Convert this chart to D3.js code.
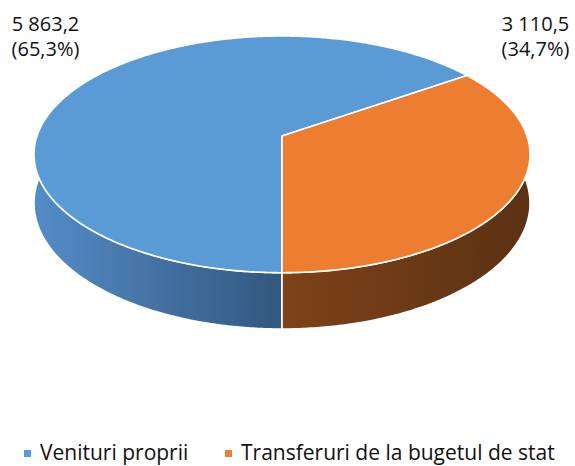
<!DOCTYPE html>
<html>
<head>
<meta charset="utf-8">
<script src="https://cdn.jsdelivr.net/npm/d3@7"></script>
<style>
  html, body { margin: 0; padding: 0; background: #ffffff; }
  svg { display: block; }
  text { font-family: "Open Sans", "Liberation Sans", sans-serif; fill: #111111; }
</style>
</head>
<body>
<svg id="chart" width="575" height="466"></svg>
<script>
// ---- data ----
const categories = ["Venituri proprii", "Transferuri de la bugetul de stat"];
const values = [5863.2, 3110.5];
const topColors = ["#5b9bd5", "#ed7d31"];
const wallColorsLeft = ["#548cc8", "#7e4219"];
const wallColorsRight = ["#33577e", "#5a3213"];

// ---- layout ----
const W = 575, H = 466;
const cx = 282, cy = 136;       // projected centre of the top disc
const Ax = 245, Ay = 115.5;      // projection scales
const k = 0.155;                 // perspective factor
const depth = 47.6;              // wall height

const svg = d3.select("#chart");
svg.append("rect").attr("width", W).attr("height", H).attr("fill", "#fff");

const locale = d3.formatLocale({decimal: ",", thousands: "\u00a0", grouping: [3], currency: ["", ""]});
const fmtVal = locale.format(",.1f");
const fmtPct = locale.format(".1%");
const total = d3.sum(values);

const pie = d3.pie().sort(null).value(d => d).startAngle(Math.PI).endAngle(3 * Math.PI);
const arcs = pie(values);

function proj(phi, level) {
  const a = Math.sin(phi), b = Math.cos(phi);
  const den = 1 + k * b;
  return [cx + Ax * a / den, cy - Ay * b / den + level * depth / den];
}
function sample(a0, a1) {
  const n = Math.max(2, Math.ceil(Math.abs(a1 - a0) / 0.01));
  return d3.range(n + 1).map(i => a0 + (a1 - a0) * i / n);
}

const defs = svg.append("defs");
categories.forEach((c, i) => {
  const g = defs.append("linearGradient").attr("id", "wall" + i)
    .attr("gradientUnits", "userSpaceOnUse")
    .attr("x1", i === 0 ? 34 : 282).attr("x2", i === 0 ? 282 : 530)
    .attr("y1", 0).attr("y2", 0);
  g.append("stop").attr("offset", 0).attr("stop-color", wallColorsLeft[i]);
  g.append("stop").attr("offset", 1).attr("stop-color", wallColorsRight[i]);
});

const line = d3.line();

// walls (front part only)
const vis0 = Math.PI / 2 - 0.25, vis1 = 3 * Math.PI / 2 + 0.25;
arcs.forEach((d, i) => {
  for (let s = -2; s <= 2; s++) {
    const lo = Math.max(d.startAngle, vis0 + s * 2 * Math.PI);
    const hi = Math.min(d.endAngle, vis1 + s * 2 * Math.PI);
    if (hi <= lo) continue;
    const angs = sample(lo, hi);
    const pts = angs.map(p => proj(p, 0)).concat(angs.slice().reverse().map(p => proj(p, 1)));
    svg.append("path").attr("d", line(pts) + "Z")
      .attr("fill", `url(#wall${i})`)
      .attr("stroke", "#fff").attr("stroke-width", 1.6).attr("stroke-linejoin", "round");
  }
});

// top faces
arcs.forEach((d, i) => {
  const pts = [[cx, cy]].concat(sample(d.startAngle, d.endAngle).map(p => proj(p, 0)));
  svg.append("path").attr("d", line(pts) + "Z")
    .attr("fill", topColors[i])
    .attr("stroke", "#fff").attr("stroke-width", 1.6).attr("stroke-linejoin", "round");
});

// data labels
const labelPos = [[45.5, 31], [535.5, 31]];
arcs.forEach((d, i) => {
  const t = svg.append("text").attr("text-anchor", "middle").attr("font-size", 20);
  t.append("tspan").attr("x", labelPos[i][0]).attr("y", labelPos[i][1]).text(fmtVal(values[i]));
  t.append("tspan").attr("x", labelPos[i][0]).attr("y", labelPos[i][1] + 25)
    .text("(" + fmtPct(values[i] / total) + ")");
});

// legend
const legendX = [24, 225];
categories.forEach((c, i) => {
  svg.append("rect").attr("x", legendX[i]).attr("y", 450).attr("width", 7).attr("height", 7)
    .attr("fill", topColors[i]);
  svg.append("text").attr("x", legendX[i] + 16).attr("y", 460).attr("font-size", 21).text(c);
});
</script>
</body>
</html>
